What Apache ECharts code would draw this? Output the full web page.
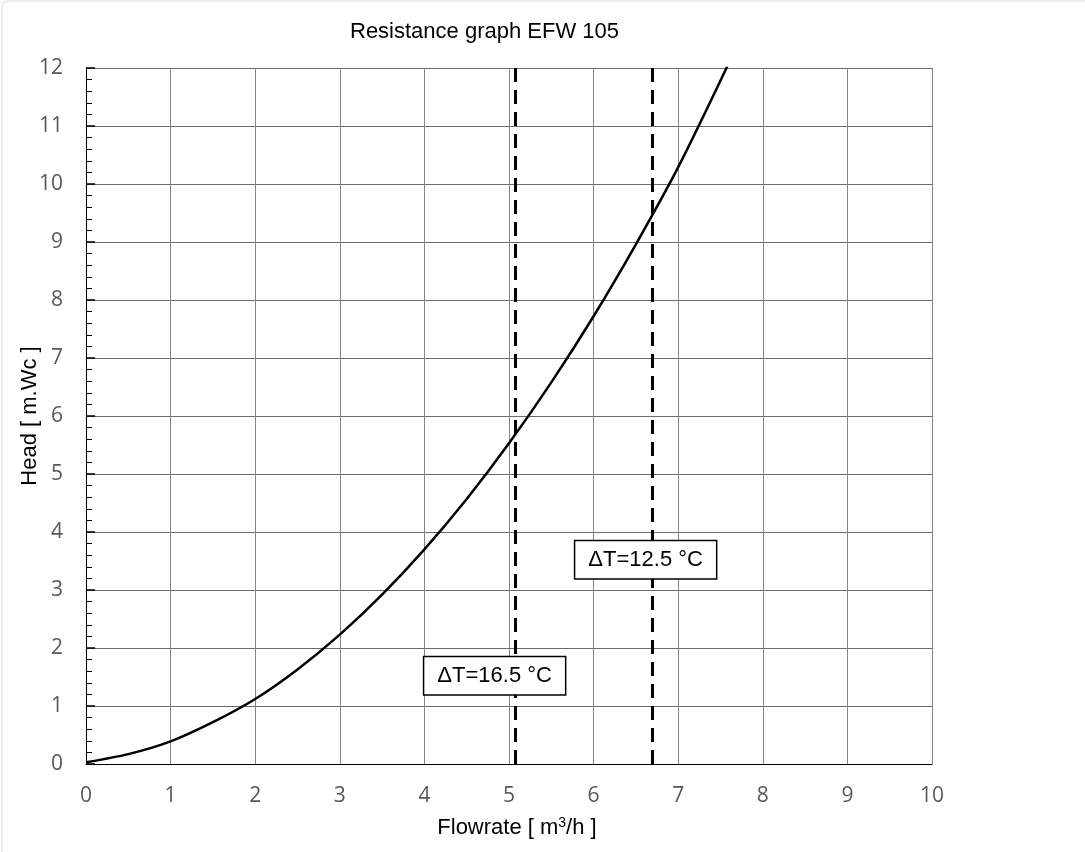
<!DOCTYPE html>
<html>
<head>
<meta charset="utf-8">
<script src="https://cdn.jsdelivr.net/npm/echarts@6/dist/echarts.min.js"></script>
<style>
html,body{margin:0;padding:0;background:#fff;}
#c{width:1085px;height:852px;}
</style>
</head>
<body>
<div id="c"></div>
<script>
// Resistance curve (flowrate m3/h -> head m.Wc)
const flowrate = [0, 0.5, 1, 1.5, 2, 2.5, 3, 3.5, 4, 4.5, 5, 5.5, 6, 6.5, 7, 7.6];
const head     = [0.03, 0.17, 0.39, 0.72, 1.12, 1.63, 2.23, 2.92, 3.7, 4.57, 5.53, 6.58, 7.72, 8.96, 10.29, 12.09];
// Vertical design-flow lines
const deltaTFlows = [5.07, 6.69];
const deltaTLabels = ['ΔT=16.5 °C', 'ΔT=12.5 °C'];
// Annotation anchors (data coordinates)
const labelFlow = [4.83, 6.615];
const labelHead = [1.52, 3.52];
const xTicks = [0,1,2,3,4,5,6,7,8,9,10];
const yTicks = [0,1,2,3,4,5,6,7,8,9,10,11,12];

const chart = echarts.init(document.getElementById('c'));
const curve = flowrate.map((x, i) => [x, head[i]]);

chart.setOption({
  animation: false,
  backgroundColor: '#fff',
  graphic: [
    { type: 'rect', silent: true, z: -10,
      shape: { x: 2, y: 1, width: 1200, height: 1000, r: 6 },
      style: { fill: 'none', stroke: '#d9d9d9', lineWidth: 1 } },
    { type: 'text', left: 350, top: 21,
      style: { text: 'Resistance graph EFW 105', font: '22px "Liberation Sans", Arial, sans-serif', fill: '#000' } }
  ],
  grid: { left: 86, right: 153, top: 68, bottom: 88, containLabel: false },
  xAxis: {
    type: 'value', min: 0, max: 10, interval: 1,
    name: '{a|Flowrate [ m}{s|3}{a|/h ]}',
    nameLocation: 'middle', nameGap: 52, nameMoveOverlap: false,
    nameTextStyle: {
      padding: [0, 0, 0, 16],
      rich: {
        a: { fontFamily: '"Liberation Sans", Arial, sans-serif', fontSize: 22, color: '#000' },
        s: { fontFamily: '"Liberation Sans", Arial, sans-serif', fontSize: 14, color: '#000', verticalAlign: 'top', padding: [0,0,10,0] }
      }
    },
    axisLine: { show: true, onZero: false, lineStyle: { color: '#000', width: 1 } },
    axisTick: { show: false },
    axisLabel: { margin: 22, color: '#595959', fontSize: 21, fontFamily: '"Open Sans", sans-serif',
      formatter: v => xTicks.includes(v) ? String(v) : '' },
    splitLine: { show: true, lineStyle: { color: '#858585', width: 1 } }
  },
  yAxis: {
    type: 'value', min: 0, max: 12, interval: 1,
    name: 'Head [ m.Wc ]',
    nameLocation: 'middle', nameGap: 45, nameMoveOverlap: false,
    nameTextStyle: { fontFamily: '"Liberation Sans", Arial, sans-serif', fontSize: 22, color: '#000' },
    axisLine: { show: true, onZero: false, lineStyle: { color: '#000', width: 1 } },
    axisTick: { show: true, inside: true, length: 9, lineStyle: { color: '#000', width: 1.5 } },
    minorTick: { show: true, splitNumber: 5, length: 6, lineStyle: { color: '#000', width: 1 } },
    axisLabel: { margin: 23, color: '#595959', fontSize: 21, fontFamily: '"Open Sans", sans-serif',
      formatter: v => yTicks.includes(v) ? String(v) : '' },
    splitLine: { show: true, lineStyle: { color: '#6a6a6a', width: 1 } }
  },
  series: [
    {
      type: 'line', data: curve, smooth: 0.3, symbol: 'none', clip: true,
      lineStyle: { color: '#000', width: 2.5 },
      markLine: {
        silent: true, symbol: 'none', animation: false,
        label: { show: false },
        lineStyle: { color: '#000', width: 3, type: [14, 8] },
        data: deltaTFlows.map(v => ({ xAxis: v }))
      },
      z: 3
    },
    {
      type: 'line', data: [], z: 20, silent: true,
      markPoint: {
        silent: true, animation: false,
        symbol: 'circle', symbolSize: 1,
        itemStyle: { color: '#fff', opacity: 1 },
        label: {
          show: true, position: 'inside',
          formatter: p => p.name,
          fontFamily: '"Liberation Sans", Arial, sans-serif', fontSize: 22, color: '#000',
          backgroundColor: '#fff', borderColor: '#000', borderWidth: 1.5,
          padding: [8, 13, 7, 13]
        },
        data: labelFlow.map((x, i) => ({ name: deltaTLabels[i], coord: [x, labelHead[i]] }))
      }
    }
  ]
});
</script>
</body>
</html>
